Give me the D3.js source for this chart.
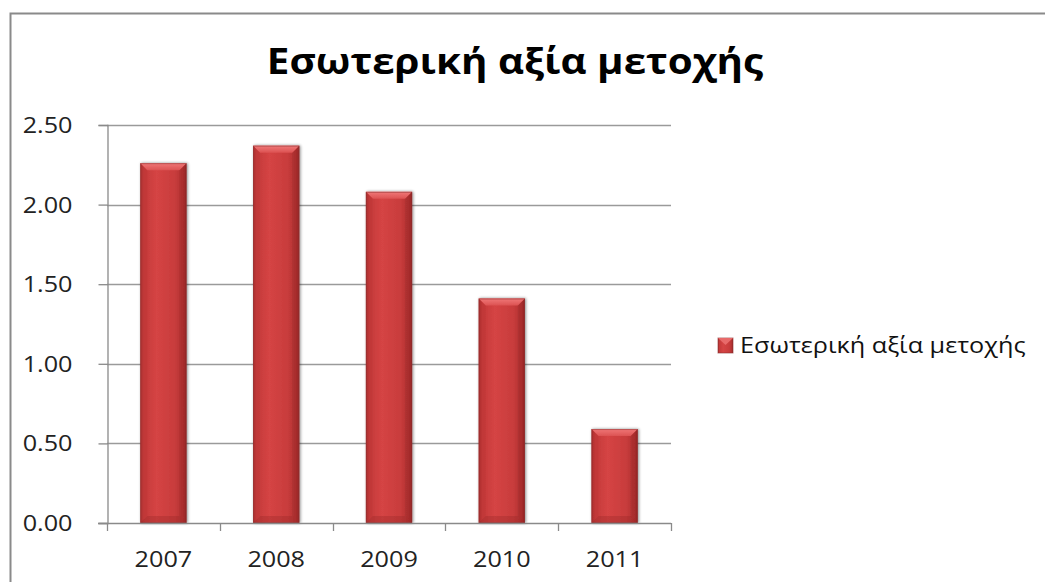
<!DOCTYPE html>
<html>
<head>
<meta charset="utf-8">
<script src="https://cdn.jsdelivr.net/npm/d3@7"></script>
<style>
  html, body { margin: 0; padding: 0; background: #fff; }
  svg { display: block; }
  text { font-family: "Open Sans", "Noto Sans", sans-serif; }
</style>
</head>
<body>
<svg id="chart" width="1045" height="582"></svg>
<script>
const titleText = "Εσωτερική αξία μετοχής";
const seriesName = "Εσωτερική αξία μετοχής";
const years = ["2007", "2008", "2009", "2010", "2011"];
const values = [2.26, 2.37, 2.08, 1.41, 0.59];
const yTicks = [0, 0.5, 1.0, 1.5, 2.0, 2.5];

const svg = d3.select("#chart");
const W = 1045, H = 582;
const plot = { left: 107, right: 671, top: 125, bottom: 523 };
const stretch = 1.2; // text is drawn slightly wide

// chart frame
svg.append("path")
  .attr("d", `M10.5,${H} L10.5,13.5 L${W},13.5`)
  .attr("fill", "none").attr("stroke", "#8a8a8a").attr("stroke-width", 2);

const defs = svg.append("defs");
const body = defs.append("linearGradient").attr("id", "barBody")
  .attr("x1", 0).attr("x2", 1).attr("y1", 0).attr("y2", 0);
[[0, "#a52b2b"], [0.08, "#c43a3a"], [0.35, "#d54444"], [0.75, "#c83c3c"], [0.93, "#b03030"], [1, "#952626"]]
  .forEach(([o, c]) => body.append("stop").attr("offset", o).attr("stop-color", c));
const topG = defs.append("linearGradient").attr("id", "barTop")
  .attr("x1", 0).attr("x2", 0).attr("y1", 0).attr("y2", 1);
[[0, "#f07878"], [1, "#dc5252"]].forEach(([o, c]) => topG.append("stop").attr("offset", o).attr("stop-color", c));
const shade = defs.append("filter").attr("id", "shade").attr("x", "-20%").attr("y", "-5%").attr("width", "140%").attr("height", "110%");
shade.append("feGaussianBlur").attr("in", "SourceAlpha").attr("stdDeviation", 1.5).attr("result", "b");
shade.append("feOffset").attr("in", "b").attr("dx", 1).attr("dy", 0).attr("result", "o");
shade.append("feComponentTransfer").attr("in", "o").attr("result", "s")
  .append("feFuncA").attr("type", "linear").attr("slope", 0.45);
const m = shade.append("feMerge");
m.append("feMergeNode").attr("in", "s");
m.append("feMergeNode").attr("in", "SourceGraphic");

const x = d3.scaleBand().domain(years).range([plot.left, plot.right]).paddingInner(0.59).paddingOuter(0.295);
const y = d3.scaleLinear().domain([0, 2.5]).range([plot.bottom, plot.top]);

// gridlines
svg.append("g").selectAll("line").data(yTicks.filter(d => d > 0)).join("line")
  .attr("x1", plot.left).attr("x2", plot.right)
  .attr("y1", d => Math.round(y(d)) + 0.5).attr("y2", d => Math.round(y(d)) + 0.5)
  .attr("stroke", "#9a9a9a").attr("stroke-width", 1.3);

// bars
const bars = svg.append("g").selectAll("g").data(values).join("g")
  .attr("filter", "url(#shade)");
bars.each(function (v, i) {
  const g = d3.select(this);
  const x0 = x(years[i]), bw = x.bandwidth();
  const yt = y(v), yb = y(0);
  const bev = 7;
  g.append("rect").attr("x", x0).attr("y", yt).attr("width", bw).attr("height", yb - yt)
    .attr("fill", "url(#barBody)");
  // top bevel
  g.append("path")
    .attr("d", `M${x0},${yt} L${x0 + bw},${yt} L${x0 + bw - bev},${yt + bev} L${x0 + bev},${yt + bev} Z`)
    .attr("fill", "url(#barTop)");
  g.append("path")
    .attr("d", `M${x0},${yt} L${x0 + bev},${yt + bev} L${x0 + bev},${yb - bev} L${x0},${yb} Z`)
    .attr("fill", "#b83434").attr("opacity", 0.3);
  g.append("path")
    .attr("d", `M${x0 + bw},${yt} L${x0 + bw - bev},${yt + bev} L${x0 + bw - bev},${yb - bev} L${x0 + bw},${yb} Z`)
    .attr("fill", "#8e2222").attr("opacity", 0.25);
  // bottom bevel
  g.append("path")
    .attr("d", `M${x0},${yb} L${x0 + bw},${yb} L${x0 + bw - bev},${yb - bev} L${x0 + bev},${yb - bev} Z`)
    .attr("fill", "#922626").attr("opacity", 0.3);
  g.append("rect").attr("x", x0 + 0.5).attr("y", yt + 0.5).attr("width", bw - 1).attr("height", yb - yt - 1)
    .attr("fill", "none").attr("stroke", "#8a3030").attr("stroke-opacity", 0.5);
});

// y axis
const yAxis = svg.append("g").attr("transform", `translate(${plot.left + 0.5},0)`)
  .call(d3.axisLeft(y).tickValues(yTicks).tickFormat(d3.format(".2f")).tickSize(9).tickPadding(26));
yAxis.select(".domain").attr("stroke", "#8a8a8a").attr("stroke-width", 1.3);
yAxis.selectAll(".tick line").attr("stroke", "#8a8a8a").attr("stroke-width", 1.3);
yAxis.selectAll(".tick text").attr("font-size", 21).attr("fill", "#222")
  .attr("font-family", "'Open Sans', sans-serif")
  .each(function () {
    const t = d3.select(this);
    const tx = +t.attr("x");
    t.attr("x", null).attr("dy", "0.36em")
      .attr("transform", `translate(${tx},0) scale(${stretch},1)`);
  });

// x axis with ticks at category boundaries
const xAxisG = svg.append("g");
xAxisG.append("line").attr("x1", plot.left - 9).attr("x2", plot.right)
  .attr("y1", plot.bottom + 0.5).attr("y2", plot.bottom + 0.5)
  .attr("stroke", "#8a8a8a").attr("stroke-width", 1.3);
const bounds = years.map(d => x(d) - x.step() * x.paddingInner() / 2).concat([plot.right]);
bounds[0] = plot.left;
xAxisG.selectAll("line.tk").data(bounds).join("line").attr("class", "tk")
  .attr("x1", d => Math.round(d) + 0.5).attr("x2", d => Math.round(d) + 0.5)
  .attr("y1", plot.bottom).attr("y2", plot.bottom + 8)
  .attr("stroke", "#8a8a8a").attr("stroke-width", 1.3);
xAxisG.selectAll("text").data(years).join("text")
  .attr("transform", d => `translate(${x(d) + x.bandwidth() / 2},567) scale(${stretch},1)`)
  .attr("text-anchor", "middle").attr("font-size", 21).attr("fill", "#222").text(d => d);

// title
svg.append("text").attr("transform", "translate(515,74) scale(1.12,1)").attr("text-anchor", "middle")
  .attr("font-size", 36).attr("font-weight", 700).attr("fill", "#000").text(titleText);

// legend
const lg = svg.append("g").attr("transform", "translate(718,338)");
lg.append("rect").attr("width", 15).attr("height", 15).attr("fill", "url(#barBody)")
  .attr("stroke", "#8a3030").attr("stroke-opacity", 0.6);
lg.append("path").attr("d", "M0,0 L15,0 L7.5,7 Z").attr("fill", "#e86a6a");
lg.append("text").attr("transform", `translate(22,15) scale(${stretch},1)`)
  .attr("font-size", 21).attr("fill", "#111").text(seriesName);
</script>
</body>
</html>
